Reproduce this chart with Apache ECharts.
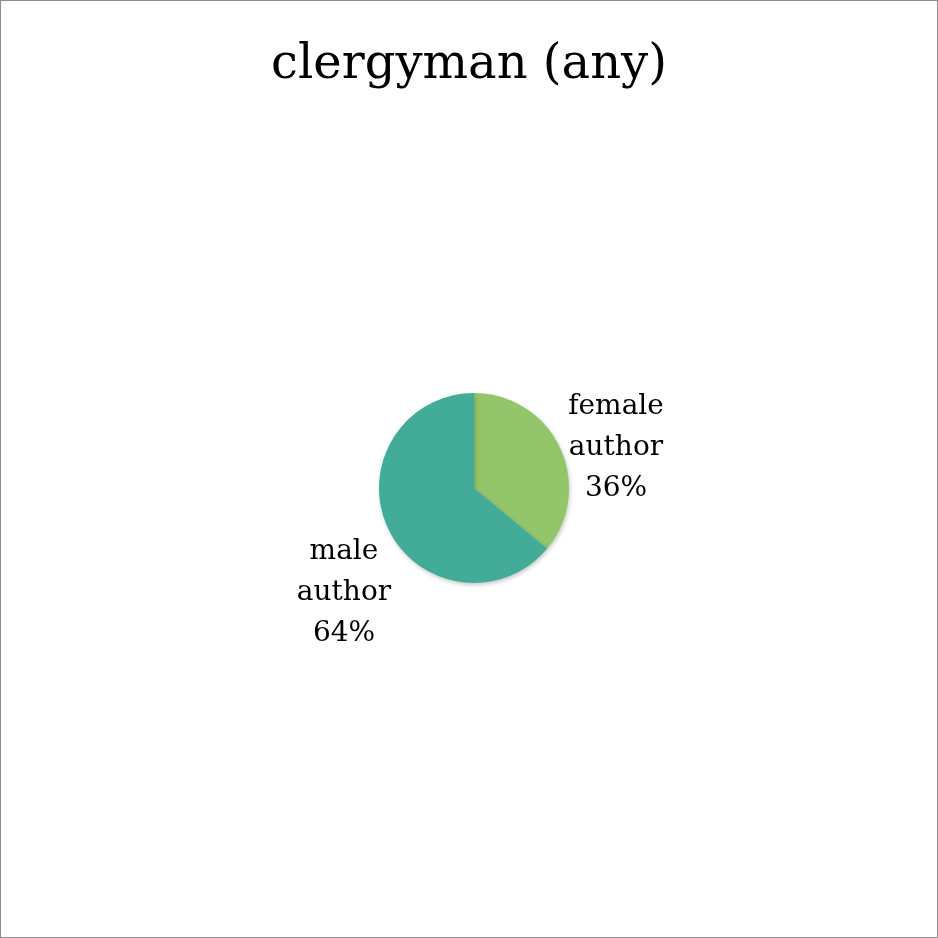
<!DOCTYPE html>
<html><head><meta charset="utf-8">
<script src="https://cdn.jsdelivr.net/npm/echarts@6/dist/echarts.min.js"></script>
<style>html,body{margin:0;padding:0;background:#fff}#c{width:938px;height:938px;box-sizing:border-box;border:1px solid #8c8c8c}</style>
</head><body><div id="c"></div>
<script>
const titleText = 'clergyman (any)';
const categories = ['female\nauthor', 'male\nauthor'];
const values = [36, 64];
const colors = ['#93C66B', '#43AC98'];
const labelPos = [[615, 447], [343, 592]];
const FONT = '"Palatino Linotype", "Book Antiqua", Palatino, "DejaVu Serif", serif';
const chart = echarts.init(document.getElementById('c'));
chart.setOption({
  animation: false,
  title: { text: titleText, left: 'center', top: 36, textStyle: { fontFamily: FONT, fontWeight: 'normal', fontSize: 48, color: '#000' } },
  series: [{
    type: 'pie', center: [473, 487], radius: [0, 95], startAngle: 90, clockwise: true,
    data: categories.map((c, i) => ({ name: c, value: values[i], itemStyle: { color: colors[i] } })),
    itemStyle: { shadowBlur: 4, shadowOffsetX: 1, shadowOffsetY: 2, shadowColor: 'rgba(0,0,0,0.22)' },
    label: { show: true, position: 'outside', formatter: p => p.name + '\n' + Math.round(p.percent) + '%', fontFamily: FONT, fontSize: 28, lineHeight: 41, color: '#000', align: 'center' },
    labelLine: { show: false },
    labelLayout: p => ({ x: labelPos[p.dataIndex][0], y: labelPos[p.dataIndex][1], align: 'center', verticalAlign: 'middle' }),
    emphasis: { disabled: true }
  }]
});
</script></body></html>
